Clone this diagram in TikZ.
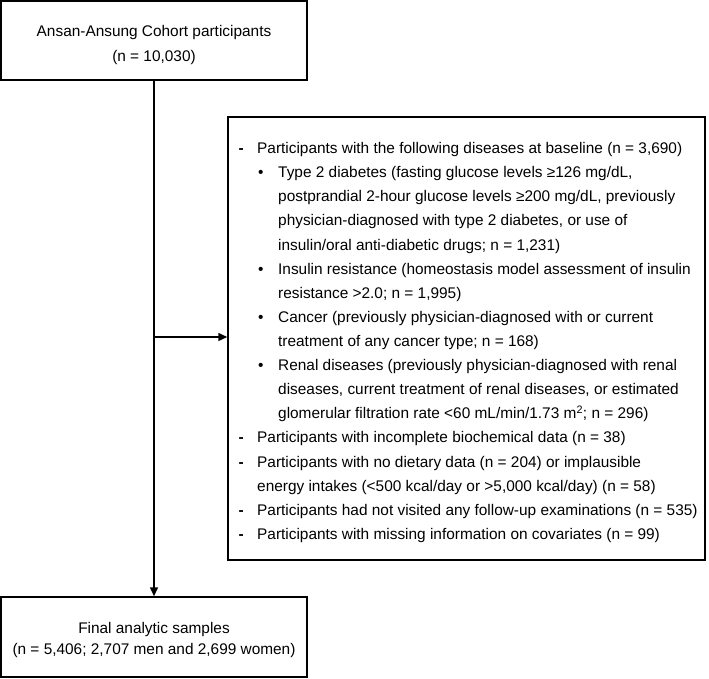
\documentclass[tikz,border=0pt]{standalone}
\usepackage{fontspec}
\setmainfont{Liberation Sans}
\usetikzlibrary{arrows.meta}
\begin{document}
\begin{tikzpicture}[x=1bp,y=-1bp,
  box/.style={draw,line width=1.5bp,inner sep=0pt},
  txt/.style={inner sep=0pt,align=center},
  ln/.style={anchor=base west,inner sep=0pt,font=\fontsize{15.4bp}{24bp}\selectfont},
  con/.style={line width=1.5bp,-{Triangle[length=9bp,width=8bp]}}]
\useasboundingbox (0,0) rectangle (709,679);
\node[box,minimum width=306bp,minimum height=79bp] (top) at (154,40.5) {};
\node[txt,font=\fontsize{15.4bp}{25bp}\selectfont] (toptext) at (154,45) {Ansan-Ansung Cohort participants\\(n = 10,030)};
\node[box,minimum width=306bp,minimum height=80bp] (bot) at (154,637) {};
\node[txt,font=\fontsize{15.4bp}{21bp}\selectfont] (bottext) at (154,640.5) {Final analytic samples\\(n = 5,406; 2,707 men and 2,699 women)};
\node[box,minimum width=477bp,minimum height=443bp] (excl) at (466.5,338.5) {};
\coordinate (split) at (154,337);
\draw[con] (top.south) -- (bot.north);
\draw[con] (split) -- (excl.west |- split);
\def\dx{238.5}\def\tx{257}\def\bx{258}\def\ux{278}
\node[ln] (d1) at (\dx,153.5) {\textbf{-}};
\node[ln] (l1) at (\tx,153.5) {Participants with the following diseases at baseline (n = 3,690)};
\node[ln] (b1) at (\bx,177.6) {•};
\node[ln] (l2) at (\ux,177.6) {Type 2 diabetes (fasting glucose levels ≥126 mg/dL,};
\node[ln] (l3) at (\ux,201.7) {postprandial 2-hour glucose levels ≥200 mg/dL, previously};
\node[ln] (l4) at (\ux,225.9) {physician-diagnosed with type 2 diabetes, or use of};
\node[ln] (l5) at (\ux,250.0) {insulin/oral anti-diabetic drugs; n = 1,231)};
\node[ln] (b2) at (\bx,274.1) {•};
\node[ln] (l6) at (\ux,274.1) {Insulin resistance (homeostasis model assessment of insulin};
\node[ln] (l7) at (\ux,298.2) {resistance >2.0; n = 1,995)};
\node[ln] (b3) at (\bx,322.3) {•};
\node[ln] (l8) at (\ux,322.3) {Cancer (previously physician-diagnosed with or current};
\node[ln] (l9) at (\ux,346.5) {treatment of any cancer type; n = 168)};
\node[ln] (b4) at (\bx,370.6) {•};
\node[ln] (l10) at (\ux,370.6) {Renal diseases (previously physician-diagnosed with renal};
\node[ln] (l11) at (\ux,394.7) {diseases, current treatment of renal diseases, or estimated};
\node[ln] (l12) at (\ux,418.8) {glomerular filtration rate <60 mL/min/1.73 m\textsuperscript{2}; n = 296)};
\node[ln] (d2) at (\dx,442.9) {\textbf{-}};
\node[ln] (l13) at (\tx,442.9) {Participants with incomplete biochemical data (n = 38)};
\node[ln] (d3) at (\dx,467.1) {\textbf{-}};
\node[ln] (l14) at (\tx,467.1) {Participants with no dietary data (n = 204) or implausible};
\node[ln] (l15) at (\tx,491.2) {energy intakes (<500 kcal/day or >5,000 kcal/day) (n = 58)};
\node[ln] (d4) at (\dx,515.3) {\textbf{-}};
\node[ln] (l16) at (\tx,515.3) {Participants had not visited any follow-up examinations (n = 535)};
\node[ln] (d5) at (\dx,539.5) {\textbf{-}};
\node[ln] (l17) at (\tx,539.5) {Participants with missing information on covariates (n = 99)};
\end{tikzpicture}
\end{document}
